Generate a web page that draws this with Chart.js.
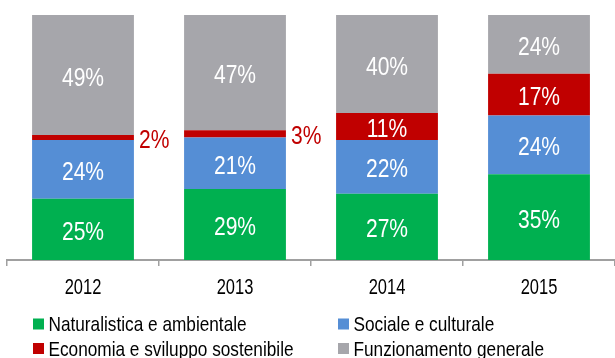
<!DOCTYPE html>
<html>
<head>
<meta charset="utf-8">
<script src="https://cdn.jsdelivr.net/npm/chart.js@4"></script>
<style>
  html, body { margin: 0; padding: 0; background: #ffffff; }
  #wrap { width: 615px; height: 358px; position: relative; overflow: hidden; }
</style>
</head>
<body>
<div id="wrap"><canvas id="chart" width="615" height="358"></canvas></div>
<script>
// Categories and series (percent shares per year)
const years = ['2012', '2013', '2014', '2015'];
const naturalistica = [25, 29, 27, 35];
const sociale = [24, 21, 22, 24];
const economia = [2, 3, 11, 17];
const funzionamento = [49, 47, 40, 24];
const seriesNames = [
  'Naturalistica e ambientale',
  'Sociale e culturale',
  'Economia e sviluppo sostenibile',
  'Funzionamento generale'
];
const seriesColors = ['#00B050', '#558ED5', '#C00000', '#A6A6AB'];

const FONT = '"Liberation Sans", Arial, sans-serif';

// Draws text horizontally condensed (narrow sans look)
function narrowText(ctx, text, x, y, size, align, color, squeeze) {
  ctx.save();
  ctx.font = size + 'px ' + FONT;
  ctx.fillStyle = color;
  ctx.textBaseline = 'alphabetic';
  ctx.textAlign = align;
  ctx.translate(x, y);
  ctx.scale(squeeze, 1);
  ctx.fillText(text, 0, 0);
  ctx.restore();
}

// Percent labels: centred in white inside each segment, small ones in red beside the bar
const valueLabels = {
  id: 'valueLabels',
  afterDatasetsDraw(chart) {
    const ctx = chart.ctx;
    chart.data.datasets.forEach((ds, i) => {
      const meta = chart.getDatasetMeta(i);
      meta.data.forEach((bar, j) => {
        const v = ds.data[j];
        const p = bar.getProps(['x', 'y', 'base', 'width'], true);
        const cy = (p.y + p.base) / 2;
        if (v < 5) {
          narrowText(ctx, v + '%', p.x + p.width / 2 + 5, cy + 10.5, 26, 'left', '#C00000', 0.81);
        } else {
          narrowText(ctx, v + '%', p.x, cy + 10.5, 26, 'center', '#ffffff', 0.81);
        }
      });
    });
  }
};

// Year labels under the category axis
const yearLabels = {
  id: 'yearLabels',
  afterDraw(chart) {
    const scale = chart.scales.x;
    chart.data.labels.forEach((lab, i) => {
      narrowText(chart.ctx, lab, scale.getPixelForTick(i), 293.5, 22, 'center', '#000000', 0.75);
    });
  }
};

// Two-column legend under the axis
const gridLegend = {
  id: 'gridLegend',
  afterDraw(chart) {
    const ctx = chart.ctx;
    const cols = [33, 338];
    const baselines = [331, 355.5];
    chart.data.datasets.forEach((ds, i) => {
      const x = cols[i % 2];
      const b = baselines[Math.floor(i / 2)];
      ctx.fillStyle = ds.backgroundColor;
      ctx.fillRect(x, b - 12.5, 11, 11);
      narrowText(ctx, ds.label, x + 15.5, b, 21, 'left', '#000000', 0.82);
    });
  }
};

const seriesData = [naturalistica, sociale, economia, funzionamento];

new Chart(document.getElementById('chart'), {
  type: 'bar',
  data: {
    labels: years,
    datasets: seriesData.map((d, i) => ({
      label: seriesNames[i],
      data: d,
      backgroundColor: seriesColors[i],
      borderWidth: 0,
      categoryPercentage: 1,
      barPercentage: 0.67
    }))
  },
  options: {
    responsive: false,
    animation: false,
    devicePixelRatio: 1,
    layout: { padding: { left: 7, right: 0, top: 15, bottom: 60 } },
    plugins: {
      legend: { display: false },
      tooltip: { enabled: false }
    },
    scales: {
      x: {
        stacked: true,
        afterFit(scale) { scale.height = 38; },
        grid: {
          display: true,
          offset: true,
          drawOnChartArea: false,
          drawTicks: true,
          tickLength: 6,
          color: '#a0a0a0',
          lineWidth: 1.5
        },
        border: { display: true, color: '#a0a0a0', width: 2 },
        ticks: { display: false }
      },
      y: {
        stacked: true,
        display: false,
        min: 0,
        max: 100
      }
    }
  },
  plugins: [valueLabels, yearLabels, gridLegend]
});
</script>
</body>
</html>
